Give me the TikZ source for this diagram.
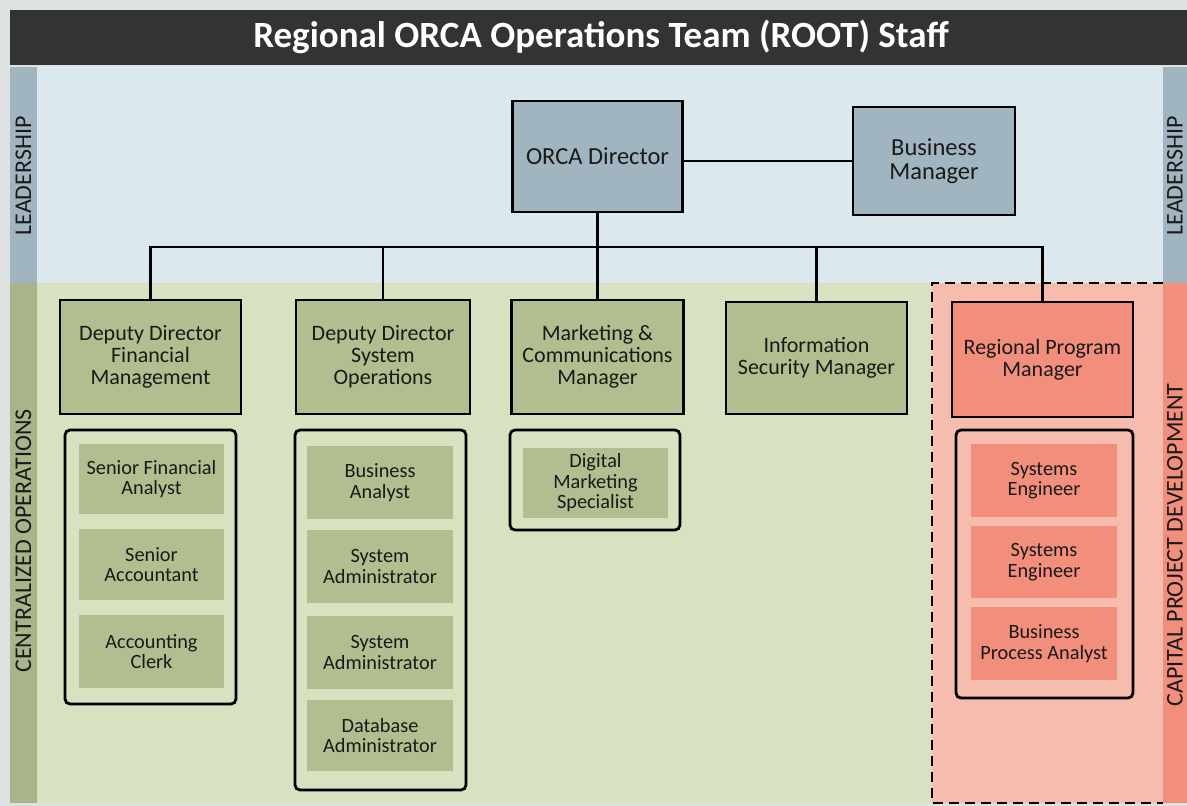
\documentclass[tikz,border=0pt]{standalone}
\usepackage{fontspec}
\setmainfont{Carlito}
\definecolor{frame}{HTML}{DEE1E1}
\definecolor{titlebar}{HTML}{333333}
\definecolor{leadbg}{HTML}{DBE9EF}
\definecolor{leadbox}{HTML}{A0B5BF}
\definecolor{opsbg}{HTML}{D8E2C1}
\definecolor{opsbox}{HTML}{B2BE8F}
\definecolor{opsstrip}{HTML}{A9B48A}
\definecolor{capbg}{HTML}{F6BDAE}
\definecolor{capbox}{HTML}{F18E7C}
\definecolor{ink}{HTML}{1A1A1A}
\newcommand{\boxfont}{\fontsize{22}{22}\selectfont}
\newcommand{\headfont}{\fontsize{24.5}{23.5}\selectfont}
\newcommand{\itemfont}{\fontsize{20.3}{20.5}\selectfont}
\tikzset{
  role/.style={draw=black, line width=2.5pt, text=ink, align=center, font=\boxfont, inner sep=2pt},
  head/.style={role, fill=leadbox, font=\headfont},
  item/.style={text=ink, align=center, font=\itemfont, minimum width=145pt, inner sep=2pt},
  group/.style={draw=black, line width=2.8pt, rounded corners=5pt},
  band/.style={text=ink, rotate=90, font=\fontsize{24}{26}\selectfont},
  link/.style={line width=2.5pt}
}

\begin{document}
\begin{tikzpicture}[x=1pt, y=-1pt]
\useasboundingbox (0,0) rectangle (1187,806);
\fill[frame] (0,0) rectangle (1187,806);
\fill[titlebar] (10,10) rectangle (1187,65);
\node[white, font=\fontsize{37}{40}\bfseries] (title) at (601,37) {Regional ORCA Operations Team (ROOT) Staff};
\fill[leadbg] (37,67) rectangle (1163,283);
\fill[leadbox] (10,67) rectangle (37,283);
\fill[leadbox] (1163,67) rectangle (1187,283);
\fill[opsbg] (37,283) rectangle (932,803);
\fill[opsstrip] (10,283) rectangle (37,803);
\fill[capbg] (932,283) rectangle (1163,803);
\fill[capbox] (1163,283) rectangle (1187,803);
\draw[line width=2pt, dash pattern=on 10pt off 6pt] (1163,283) -- (932,283) -- (932,803) -- (1163,803);
\node[band] (leadL) at (23.5,176) {LEADERSHIP};
\node[band] (leadR) at (1175,176) {LEADERSHIP};
\node[band] (ops) at (23.5,541) {CENTRALIZED OPERATIONS};
\node[band] (cap) at (1175,545) {CAPITAL PROJECT DEVELOPMENT};

\node[head, minimum width=170pt, minimum height=111pt] (dir) at (597.5,156.5) {ORCA Director};
\node[head, minimum width=162pt, minimum height=108pt] (bm) at (934,161) {Business\\Manager};
\node[role, fill=opsbox, minimum width=181pt, minimum height=114pt] (ddfm) at (150.5,357) {Deputy Director\\Financial\\Management};
\node[role, fill=opsbox, minimum width=174pt, minimum height=114pt] (ddso) at (383,357) {Deputy Director\\System\\Operations};
\node[role, fill=opsbox, minimum width=172pt, minimum height=114pt] (mkt) at (597.5,357) {Marketing \&\\Communications\\Manager};
\node[role, fill=opsbox, minimum width=181pt, minimum height=112pt] (ism) at (816.5,358) {Information\\Security Manager};
\node[role, fill=capbox, minimum width=181pt, minimum height=115pt] (rpm) at (1042.5,359.5) {Regional Program\\Manager};

\coordinate (bus) at (597.5,247);
\draw[link] (bm.west) -- (bm.west -| dir.east);
\draw[link] (dir.south) -- (mkt.north);
\draw[link] (ddfm.north) -- (ddfm.north |- bus) -| (rpm.north);
\draw[link] (ddso.north) -- (ddso.north |- bus);
\draw[link] (ism.north) -- (ism.north |- bus);

\node[group, minimum width=171pt, minimum height=274pt] (fmgrp) at (150.5,567) {};
\node[item, fill=opsbox, minimum height=70pt] (sfa) at (151.5,479) {Senior Financial\\Analyst};
\node[item, fill=opsbox, minimum height=71pt] (sac) at (151.5,564.5) {Senior\\Accountant};
\node[item, fill=opsbox, minimum height=73pt] (acl) at (151.5,651.5) {Accounting\\Clerk};

\node[group, minimum width=171pt, minimum height=360pt] (sogrp) at (380.5,610) {};
\node[item, fill=opsbox, minimum width=146pt, minimum height=73pt] (ban) at (380,482.5) {Business\\Analyst};
\node[item, fill=opsbox, minimum width=146pt, minimum height=73pt] (sad) at (380,566.5) {System\\Administrator};
\node[item, fill=opsbox, minimum width=146pt, minimum height=73pt] (sadb) at (380,652.5) {System\\Administrator};
\node[item, fill=opsbox, minimum width=146pt, minimum height=71pt] (dba) at (380,735.5) {Database\\Administrator};

\node[group, minimum width=170pt, minimum height=100pt] (mkgrp) at (595,480) {};
\node[item, fill=opsbox, minimum height=70pt] (dms) at (595.5,483) {Digital\\Marketing\\Specialist};

\node[group, minimum width=177pt, minimum height=268pt] (rpgrp) at (1044.5,564) {};
\node[item, fill=capbox, minimum width=146pt, minimum height=73pt] (sea) at (1044,480.5) {Systems\\Engineer};
\node[item, fill=capbox, minimum width=146pt, minimum height=72pt] (seb) at (1044,562) {Systems\\Engineer};
\node[item, fill=capbox, minimum width=146pt, minimum height=73pt] (bpa) at (1044,643.5) {Business\\Process Analyst};
\end{tikzpicture}
\end{document}
